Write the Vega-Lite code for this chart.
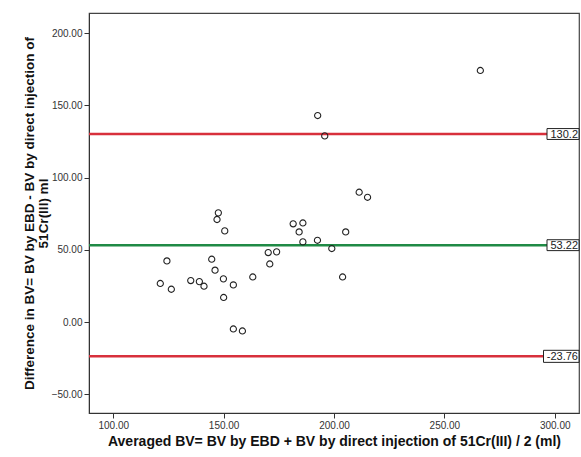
{
  "$schema": "https://vega.github.io/schema/vega-lite/v6.json",
  "width": 490,
  "height": 400,
  "autosize": {"type": "none"},
  "padding": {"left": 89, "top": 13, "right": 2, "bottom": 44},
  "background": "white",
  "config": {
    "font": "Liberation Sans",
    "view": {"stroke": "#444444", "strokeWidth": 1.2},
    "axis": {
      "grid": false,
      "domainColor": "#333333",
      "tickColor": "#333333",
      "tickSize": 5,
      "labelFont": "Liberation Sans",
      "labelFontSize": 10,
      "labelColor": "#333333",
      "titleFont": "Liberation Sans",
      "titleFontSize": 14,
      "titleFontWeight": "bold",
      "titleColor": "#111111"
    }
  },
  "datasets": {
    "points": [
      {"avg": 121.3, "diff": 26.7},
      {"avg": 124.3, "diff": 42.3},
      {"avg": 126.3, "diff": 22.7},
      {"avg": 135.1, "diff": 28.7},
      {"avg": 139.0, "diff": 28.0},
      {"avg": 141.1, "diff": 24.8},
      {"avg": 144.6, "diff": 43.5},
      {"avg": 146.1, "diff": 35.9},
      {"avg": 147.6, "diff": 75.6},
      {"avg": 147.0, "diff": 71.0},
      {"avg": 150.5, "diff": 63.1},
      {"avg": 149.9, "diff": 29.9},
      {"avg": 150.0, "diff": 17.0},
      {"avg": 154.4, "diff": 25.7},
      {"avg": 154.4, "diff": -4.8},
      {"avg": 158.5, "diff": -6.2},
      {"avg": 163.2, "diff": 31.2},
      {"avg": 170.2, "diff": 48.1},
      {"avg": 170.9, "diff": 40.2},
      {"avg": 174.0, "diff": 48.6},
      {"avg": 181.5, "diff": 68.0},
      {"avg": 185.9, "diff": 68.6},
      {"avg": 184.2, "diff": 62.4},
      {"avg": 185.9, "diff": 55.5},
      {"avg": 192.5, "diff": 56.6},
      {"avg": 199.0, "diff": 50.9},
      {"avg": 203.9, "diff": 31.2},
      {"avg": 205.3, "diff": 62.4},
      {"avg": 211.4, "diff": 89.9},
      {"avg": 215.2, "diff": 86.4},
      {"avg": 192.6, "diff": 143.0},
      {"avg": 195.8, "diff": 128.9},
      {"avg": 266.3, "diff": 174.2}
    ],
    "limits": [
      {"limit": 130.2, "label": "130.2", "kind": "loa"},
      {"limit": 53.22, "label": "53.22", "kind": "mean"},
      {"limit": -23.76, "label": "-23.76", "kind": "loa"}
    ]
  },
  "layer": [
    {
      "data": {"name": "limits"},
      "mark": {"type": "rule", "strokeWidth": 2.5},
      "encoding": {
        "y": {"field": "limit", "type": "quantitative", "scale": {"domain": [-63, 214], "nice": false, "zero": false},
          "axis": {
            "values": [-50, 0, 50, 100, 150, 200],
            "format": ".2f",
            "title": ["Difference in BV= BV by EBD - BV by direct injection of", "51Cr(III) ml"],
            "titleFontSize": 13.5,
            "titlePadding": 1,
            "titleLineHeight": 14
          }
        },
        "color": {
          "field": "kind", "type": "nominal",
          "scale": {"domain": ["loa", "mean"], "range": ["#d8303c", "#1f8a45"]},
          "legend": null
        }
      }
    },
    {
      "data": {"name": "points"},
      "mark": {"type": "point", "shape": "circle", "filled": false, "color": "#222222", "strokeWidth": 1.1, "size": 38, "opacity": 1},
      "encoding": {
        "x": {"field": "avg", "type": "quantitative", "scale": {"domain": [89, 311], "nice": false, "zero": false},
          "axis": {
            "values": [100, 150, 200, 250, 300],
            "format": ".2f",
            "title": "Averaged BV= BV by EBD + BV by direct injection of 51Cr(III) / 2 (ml)",
            "titlePadding": 4
          }
        },
        "y": {"field": "diff", "type": "quantitative"}
      }
    },
    {
      "data": {"name": "limits"},
      "mark": {"type": "point", "filled": true, "fill": "white", "stroke": "#222222", "strokeWidth": 1, "opacity": 1,
        "shape": "M-2,-0.34L0,-0.34L0,0.34L-2,0.34Z"},
      "encoding": {
        "x": {"value": "width"},
        "y": {"field": "limit", "type": "quantitative"},
        "size": {"condition": {"test": "datum.limit < 0", "value": 1260}, "value": 1024}
      }
    },
    {
      "data": {"name": "limits"},
      "mark": {"type": "text", "align": "right", "baseline": "middle", "dx": -1, "dy": 0.5, "fontSize": 11, "font": "Liberation Sans", "color": "#222222"},
      "encoding": {
        "x": {"value": "width"},
        "y": {"field": "limit", "type": "quantitative"},
        "text": {"field": "label"}
      }
    }
  ]
}
